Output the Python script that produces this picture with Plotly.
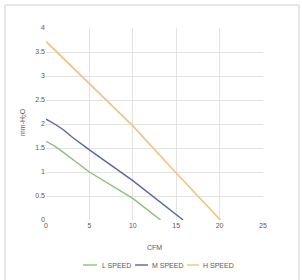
import plotly.graph_objects as go

l_x = [0, 1, 2, 3, 5, 10, 13.2]
l_y = [1.64, 1.54, 1.41, 1.27, 1.0, 0.45, 0]
m_x = [0, 1, 2, 3, 5, 10, 15.8]
m_y = [2.1, 2.0, 1.88, 1.73, 1.46, 0.82, 0]
h_x = [0, 2.5, 5, 10, 15, 20.1]
h_y = [3.72, 3.28, 2.85, 1.96, 0.98, 0]

series_names = ["L SPEED", "M SPEED", "H SPEED"]
series_colors = ["#8fbf7f", "#5a64aa", "#efc584"]

x_ticks = [0, 5, 10, 15, 20, 25]
y_ticks = [0, 0.5, 1, 1.5, 2, 2.5, 3, 3.5, 4]
y_labels = ["0", "0.5", "1", "1.5", "2", "2.5", "3", "3.5", "4"]

font = dict(family="Liberation Sans Narrow, Liberation Sans, Arial", size=7, color="#595959")

W, H = 302, 280
ML, MR, MT, MB = 46, 39, 28, 60
PW, PH = W - ML - MR, H - MT - MB


def px_x(p):
    return (p - ML) / PW


def px_y(p):
    return (H - MB - p) / PH


fig = go.Figure()
for xs, ys, name, col, w in [(l_x, l_y, series_names[0], series_colors[0], 1.4),
                             (m_x, m_y, series_names[1], series_colors[1], 1.4),
                             (h_x, h_y, series_names[2], series_colors[2], 1.7)]:
    fig.add_trace(go.Scatter(x=xs, y=ys, mode="lines", name=name,
                             line=dict(color=col, width=w)))

# manual legend (Excel style short line + label)
legend_line_x = [(83, 97), (135, 148), (187, 199)]
legend_text_x = [100, 150, 201]
legend_y = 265
shapes = [dict(type="rect", xref="paper", yref="paper", x0=px_x(5), x1=px_x(299),
               y0=px_y(290), y1=px_y(5), line=dict(color="#cfcfcf", width=1))]
annotations = [
    dict(text="CFM", xref="paper", yref="paper", x=0.5, y=px_y(247),
         xanchor="center", yanchor="middle", showarrow=False, font=font),
    dict(text="mm-H<sub>2</sub>O", xref="paper", yref="paper", x=px_x(23), y=px_y(122),
         xanchor="center", yanchor="middle", showarrow=False, textangle=-90, font=font),
]
for (a, b), tx, name, col in zip(legend_line_x, legend_text_x, series_names, series_colors):
    shapes.append(dict(type="line", xref="paper", yref="paper", x0=px_x(a), x1=px_x(b),
                       y0=px_y(legend_y), y1=px_y(legend_y), line=dict(color=col, width=1.4)))
    annotations.append(dict(text=name, xref="paper", yref="paper", x=px_x(tx), y=px_y(legend_y),
                            xanchor="left", yanchor="middle", showarrow=False, font=font))

fig.update_layout(
    width=W, height=H,
    margin=dict(l=ML, r=MR, t=MT, b=MB, autoexpand=False),
    paper_bgcolor="white", plot_bgcolor="white",
    font=font,
    showlegend=False,
    xaxis=dict(range=[0, 25], tickvals=x_ticks, showgrid=True, gridcolor="#e3e3e3",
               gridwidth=1, zeroline=False, showline=False, ticks="",
               tickfont=font, fixedrange=True),
    yaxis=dict(range=[0, 4], tickvals=y_ticks, ticktext=y_labels, showgrid=True,
               gridcolor="#e3e3e3", gridwidth=1, zeroline=False, showline=False,
               ticks="", tickfont=font, fixedrange=True),
    annotations=annotations,
    shapes=shapes,
)

fig.write_html("out.html", config={"displayModeBar": False},
               post_script="document.body.style.margin='0';document.body.style.overflow='hidden';")
